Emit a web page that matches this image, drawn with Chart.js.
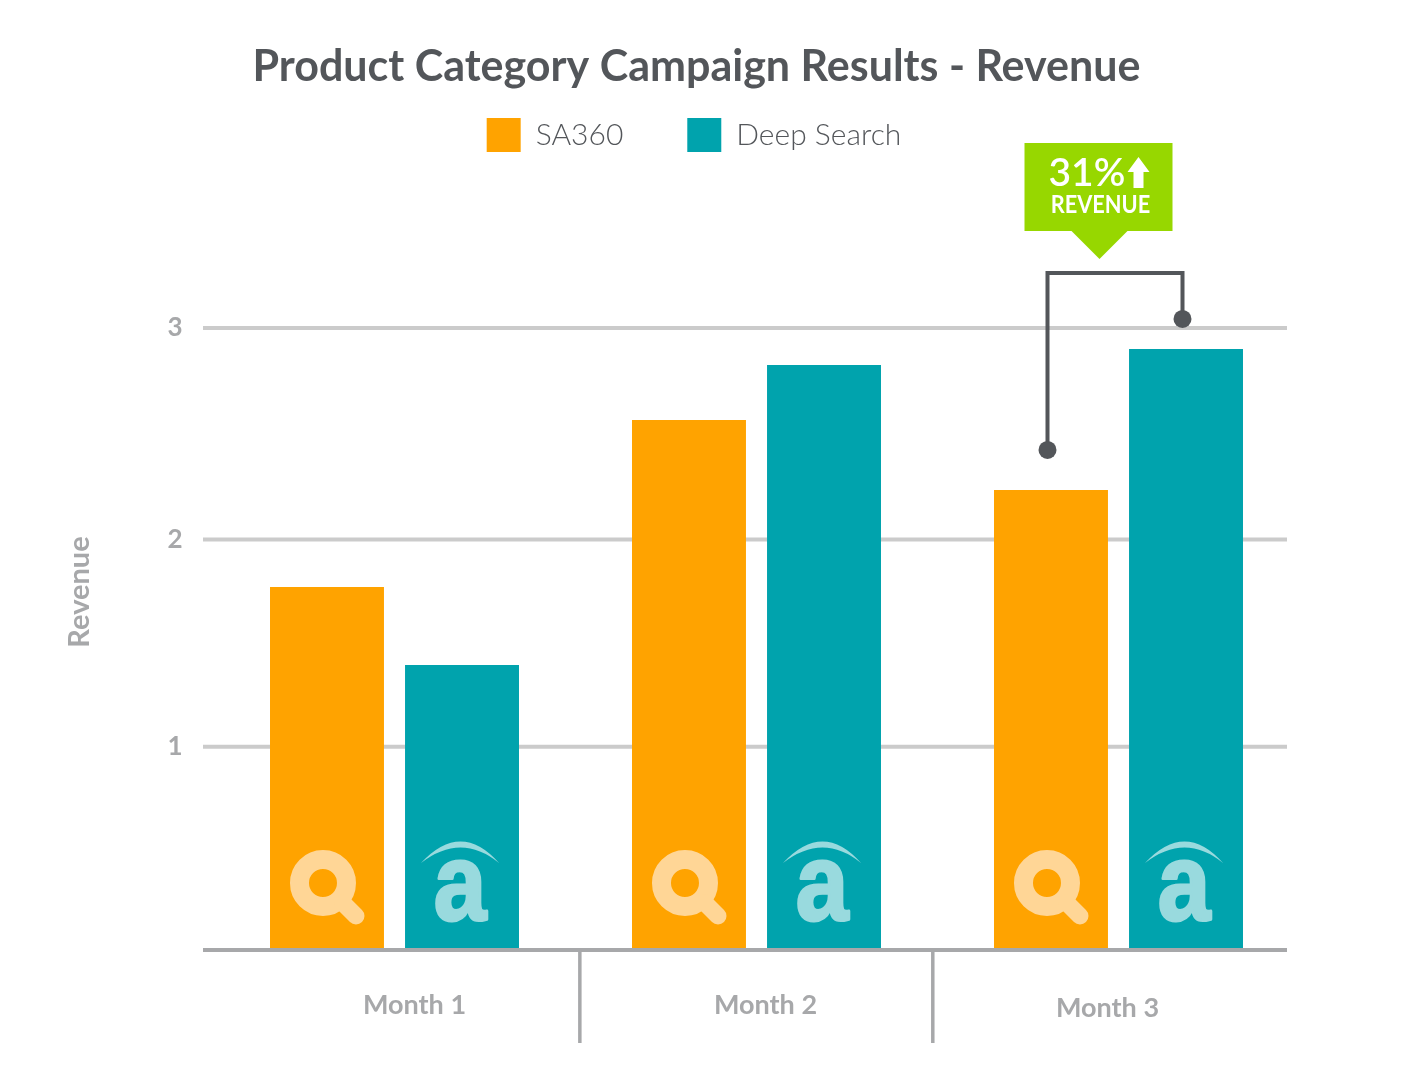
<!DOCTYPE html>
<html><head><meta charset="utf-8">
<style>html,body{margin:0;padding:0;background:#fff}canvas{display:block}</style>
<script src="https://cdn.jsdelivr.net/npm/chart.js@4"></script>
</head><body><canvas id="c" width="1402" height="1080"></canvas>
<script>
const categories = ['Month 1','Month 2','Month 3'];
const sa360 = [1.751, 2.556, 2.219];
const deepSearch = [1.375, 2.822, 2.899];
const yTickValues = [0, 0.98, 1.98, 3];
const yTickLabels = ['', '1', '2', '3'];
const dividerValues = [0.512, 1.487];
const monthLabelShiftX = [20, 9, -11];
const monthLabelShiftY = [0, 0, 3];
const calloutPercent = '31%';
const calloutLabel = 'REVENUE';

const ORANGE='#FFA300', TEAL='#00A3AD', DARK='#53565A', AXIS='#A7A8AA', GRID='#CBCBCB', GREEN='#97D700';
const FONT='Lato, "Open Sans", sans-serif';
const LEGEND_PAD=64;

const decor = {
  id:'decor',
  afterLayout(chart){
    const t=chart.titleBlock, l=chart.legend, y=chart.scales.y;
    t.left=0; t.right=1393; t.top=41;
    l.left=0; l.right=1388; l.top=118-LEGEND_PAD;
    if(!y._wrapped){
      y._wrapped=true;
      const orig=y.drawTitle;
      y.drawTitle=function(){const c=this.ctx;c.save();c.translate(0,-47);orig.apply(this,arguments);c.restore();};
    }
  },
  beforeDraw(chart){
    const xs=chart.scales.x, items=xs.getLabelItems(chart.chartArea);
    items.forEach((it,i)=>{
      if(it._shifted) return; it._shifted=true;
      it.options.translation[0]+=monthLabelShiftX[i];
      it.options.translation[1]+=monthLabelShiftY[i];
    });
  },
  beforeDatasetsDraw(chart){
    const {ctx,scales:{y}}=chart;
    ctx.save();ctx.strokeStyle=GRID;ctx.lineWidth=4;
    yTickValues.slice(1).forEach(v=>{
      const p=y.getPixelForValue(v);
      ctx.beginPath();ctx.moveTo(203,p);ctx.lineTo(1287,p);ctx.stroke();
    });
    ctx.restore();
  },
  afterDatasetsDraw(chart){
    const {ctx,scales:{x,y}}=chart;
    const a=chart.getDatasetMeta(0).data, b=chart.getDatasetMeta(1).data;
    const base=y.getPixelForValue(0);
    ctx.save();
    // magnifier icons
    a.forEach(bar=>{
      const cx=bar.x-4, cy=base-67;
      ctx.strokeStyle='#FFD696';ctx.lineCap='round';
      ctx.lineWidth=19;ctx.beginPath();ctx.arc(cx,cy,23.5,0,Math.PI*2);ctx.stroke();
      ctx.lineWidth=17;ctx.beginPath();ctx.moveTo(cx+20,cy+20);ctx.lineTo(cx+33,cy+33);ctx.stroke();
    });
    // "a" icons
    b.forEach(bar=>{
      const cx=bar.x-1, by=base;
      ctx.fillStyle='#99DADE';ctx.strokeStyle='#99DADE';
      ctx.beginPath();ctx.moveTo(cx-40,by-87);
      ctx.quadraticCurveTo(cx,by-130,cx+38,by-87);
      ctx.quadraticCurveTo(cx,by-118,cx-40,by-87);
      ctx.fill();
      ctx.save();ctx.translate(cx-1,by-30);ctx.scale(0.86,1);
      ctx.font='bold 110px "Liberation Sans", Arial, sans-serif';
      ctx.textAlign='center';ctx.textBaseline='alphabetic';
      ctx.lineWidth=3;ctx.lineJoin='round';
      ctx.fillText('a',0,0);ctx.strokeText('a',0,0);
      ctx.restore();
    });
    // axis line and dividers
    ctx.strokeStyle=AXIS;ctx.lineCap='butt';
    ctx.lineWidth=4;ctx.beginPath();ctx.moveTo(203,base);ctx.lineTo(1287,base);ctx.stroke();
    ctx.lineWidth=3.5;
    dividerValues.forEach(v=>{
      const p=x.getPixelForValue(v);
      ctx.beginPath();ctx.moveTo(p,base);ctx.lineTo(p,1043);ctx.stroke();
    });
    // comparison bracket
    const mid=x.getPixelForValue(2), lx=mid-71, rx=mid+64;
    const ly=a[2].y-40, ry=b[2].y-30, topY=273;
    ctx.strokeStyle=DARK;ctx.lineWidth=4;ctx.lineJoin='miter';
    ctx.beginPath();ctx.moveTo(lx,ly);ctx.lineTo(lx,topY);ctx.lineTo(rx,topY);ctx.lineTo(rx,ry);ctx.stroke();
    ctx.fillStyle=DARK;
    [[lx,ly],[rx,ry]].forEach(([px,py])=>{ctx.beginPath();ctx.arc(px,py,9,0,Math.PI*2);ctx.fill();});
    // callout
    const c=mid-19;
    ctx.fillStyle=GREEN;
    ctx.beginPath();ctx.moveTo(c-75,143);ctx.lineTo(c+73,143);ctx.lineTo(c+73,231);ctx.lineTo(c+28,231);
    ctx.lineTo(c,259);ctx.lineTo(c-28,231);ctx.lineTo(c-75,231);ctx.closePath();ctx.fill();
    ctx.fillStyle='#fff';ctx.textBaseline='alphabetic';ctx.textAlign='left';
    ctx.font='600 39px '+FONT;ctx.fillText(calloutPercent,c-51,186);
    ctx.beginPath();ctx.moveTo(c+39,157);ctx.lineTo(c+50,172);ctx.lineTo(c+44,172);ctx.lineTo(c+44,188);
    ctx.lineTo(c+34,188);ctx.lineTo(c+34,172);ctx.lineTo(c+28,172);ctx.closePath();ctx.fill();
    ctx.save();ctx.translate(c+1,213);ctx.scale(0.87,1);
    ctx.font='bold 25px '+FONT;ctx.textAlign='center';ctx.fillText(calloutLabel,0,0);
    ctx.restore();
    ctx.restore();
  }
};

new Chart(document.getElementById('c'),{
  type:'bar',
  data:{labels:categories,datasets:[
    {label:'SA360',data:sa360,backgroundColor:ORANGE,borderWidth:0},
    {label:'Deep Search',data:deepSearch,backgroundColor:TEAL,borderWidth:0}
  ]},
  options:{
    responsive:false,animation:false,devicePixelRatio:1,
    categoryPercentage:0.746,barPercentage:0.844,
    layout:{padding:{top:168.4,left:62.5,right:102.5,bottom:0}},
    plugins:{
      tooltip:{enabled:false},
      title:{display:true,text:'Product Category Campaign Results - Revenue',color:DARK,
        font:{family:FONT,size:43,weight:'bold',lineHeight:1.2},padding:0},
      legend:{display:true,position:'top',
        labels:{boxWidth:34,boxHeight:34,padding:LEGEND_PAD,color:DARK,font:{family:FONT,size:30,weight:'300'}}}
    },
    scales:{
      x:{grid:{display:false},border:{display:false},
        afterFit(s){s.height=130;},
        ticks:{padding:31,color:AXIS,maxRotation:0,autoSkip:false,font:{family:FONT,size:27,weight:'bold'}}},
      y:{min:0,max:3,
        grid:{display:false},border:{display:false},
        afterBuildTicks(s){s.ticks=yTickValues.map(v=>({value:v}));},
        afterFit(s){s.width=151;},
        title:{display:true,text:'Revenue',color:AXIS,padding:0,font:{family:FONT,size:29,weight:'bold'}},
        ticks:{padding:23,color:AXIS,font:{family:FONT,size:26,weight:'bold'},
          callback:(v,i)=>yTickLabels[i]}}
    }
  },
  plugins:[decor]
});
</script></body></html>
